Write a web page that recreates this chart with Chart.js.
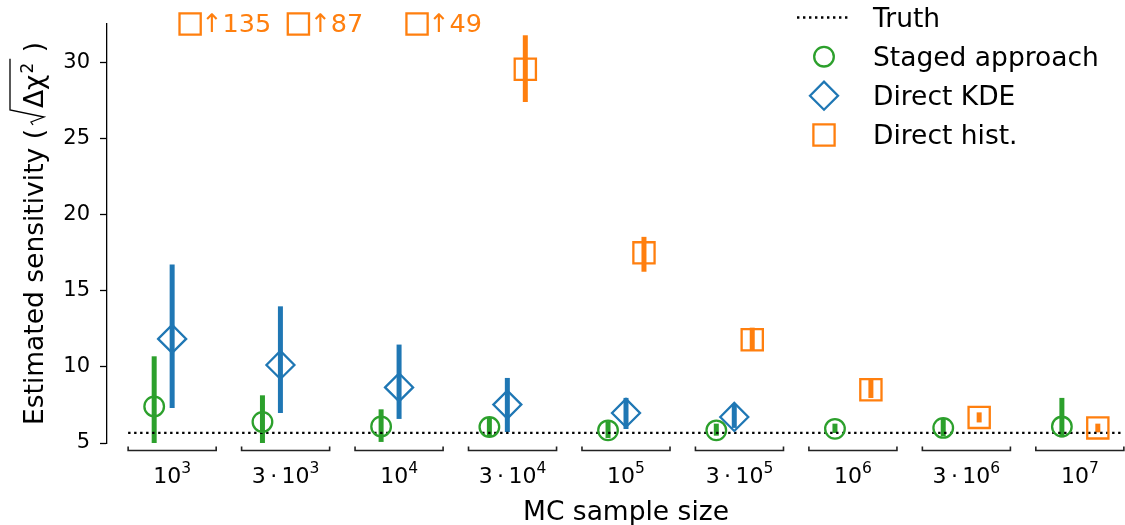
<!DOCTYPE html>
<html>
<head>
<meta charset="utf-8">
<script src="https://cdn.jsdelivr.net/npm/chart.js@4.4.0/dist/chart.umd.min.js"></script>
<style>html,body{margin:0;padding:0;background:#fff}canvas{display:block}</style>
</head>
<body>
<canvas id="c" width="1125" height="525"></canvas>
<script>
// ---------------- data ----------------
const sampleSizes = [1e3, 3e3, 1e4, 3e4, 1e5, 3e5, 1e6, 3e6, 1e7];
const tickLabels = ['10^3', '3\u2009\u00B7\u200910^3', '10^4', '3\u2009\u00B7\u200910^4', '10^5',
                    '3\u2009\u00B7\u200910^5', '10^6', '3\u2009\u00B7\u200910^6', '10^7'];
const yTicks = [5, 10, 15, 20, 25, 30];
const truthValue = 5.66;

const stagedMid = [7.40, 6.38, 6.09, 6.05, 5.83, 5.83, 5.93, 5.99, 6.08];
const stagedLo  = [4.90, 4.90, 5.07, 5.45, 5.33, 5.48, 5.66, 5.44, 5.37];
const stagedHi  = [10.69, 8.13, 7.21, 6.65, 6.42, 6.27, 6.27, 6.64, 7.96];

const kdeMid = [11.83, 10.12, 8.65, 7.52, 6.97, 6.71, null, null, null];
const kdeLo  = [7.30, 6.97, 6.58, 5.72, 5.92, 5.99, null, null, null];
const kdeHi  = [16.71, 13.97, 11.46, 9.27, 7.96, 7.56, null, null, null];

const histMid = [135, 87, 49, 29.53, 17.48, 11.78, 8.50, 6.68, 5.99];
const histLo  = [null, null, null, 27.38, 16.24, 11.09, 7.95, 6.35, 5.70];
const histHi  = [null, null, null, 31.76, 18.53, 12.57, 9.15, 7.01, 6.27];

// ---------------- styling / layout ----------------
const FONT = '"DejaVu Sans", "Liberation Sans", sans-serif';
const Y_MIN = 5, Y_MAX = 32.5;
const SHIFT = 1.2;                 // horizontal dodge factor (log scale)
const BRACKET_HALF = 0.194;        // half width of category brackets, in decades
const C_STAGED = '#2ca02c', C_KDE = '#1f77b4', C_HIST = '#ff7f0e';
const PLOT_LEFT = 107, AXES_RIGHT = 1145, CANVAS_W = 1125; // axes extend past the cropped right edge

const lg = v => Math.log10(v);
const xLoData = lg(Math.min(...sampleSizes) / SHIFT);
const xHiData = lg(Math.max(...sampleSizes) * SHIFT);
const xPad = 0.05 * (xHiData - xLoData);
const X_MIN = xLoData - xPad, X_MAX_FULL = xHiData + xPad;
const X_MAX = X_MIN + (X_MAX_FULL - X_MIN) * (CANVAS_W - PLOT_LEFT) / (AXES_RIGHT - PLOT_LEFT);

const catPos = i => lg(sampleSizes[0]) + i * (lg(sampleSizes[sampleSizes.length - 1]) - lg(sampleSizes[0])) / (sampleSizes.length - 1);

const series = [
  { key: 'staged', label: 'Staged approach', color: C_STAGED, shift: 1 / SHIFT, mid: stagedMid, lo: stagedLo, hi: stagedHi, style: 'circle', radius: 9.8 },
  { key: 'kde', label: 'Direct KDE', color: C_KDE, shift: 1, mid: kdeMid, lo: kdeLo, hi: kdeHi, style: 'rectRot', radius: 14 },
  { key: 'hist', label: 'Direct hist.', color: C_HIST, shift: SHIFT, mid: histMid, lo: histLo, hi: histHi, style: 'rect', radius: 15 }
];

function points(s) {
  const out = [];
  sampleSizes.forEach((n, i) => {
    const v = s.mid[i];
    if (v != null && v <= Y_MAX) out.push({ x: lg(n * s.shift), y: v });
  });
  return out;
}
const overflowPts = [];
sampleSizes.forEach((n, i) => {
  if (histMid[i] != null && histMid[i] > Y_MAX) overflowPts.push({ x: lg(n * SHIFT), y: Y_MAX, v: histMid[i] });
});

const MW = 2.3;
const datasets = [
  { type: 'line', label: 'Truth', data: [{ x: catPos(0) - BRACKET_HALF, y: truthValue }, { x: catPos(sampleSizes.length - 1) + BRACKET_HALF, y: truthValue }],
    borderColor: '#000', borderWidth: 2.3, borderDash: [2.4, 3.6], pointRadius: 0, fill: false, order: 5 },
  ...series.map((s, k) => ({ type: 'scatter', label: s.label, data: points(s), pointStyle: s.style, pointRadius: s.radius,
    pointBorderWidth: MW, borderColor: s.color, backgroundColor: 'rgba(0,0,0,0)', pointBackgroundColor: 'rgba(0,0,0,0)',
    pointBorderColor: s.color, order: 3 - k })),
  { type: 'scatter', label: 'overflow', data: overflowPts, pointStyle: 'rect', pointRadius: 15, pointBorderWidth: MW,
    pointBorderColor: C_HIST, pointBackgroundColor: 'rgba(0,0,0,0)', clip: false, order: 0 }
];

// ---------------- plugins ----------------
const errorBars = {
  id: 'errorBars',
  beforeDatasetsDraw(chart) {
    const { ctx, chartArea: a, scales: { x, y } } = chart;
    ctx.save();
    ctx.beginPath(); ctx.rect(a.left, a.top, a.right - a.left, a.bottom - a.top); ctx.clip();
    ctx.lineWidth = 5; ctx.lineCap = 'butt';
    series.forEach(s => {
      ctx.strokeStyle = s.color;
      sampleSizes.forEach((n, i) => {
        if (s.lo[i] == null || s.hi[i] == null) return;
        const px = x.getPixelForValue(lg(n * s.shift));
        ctx.beginPath();
        ctx.moveTo(px, y.getPixelForValue(s.lo[i]));
        ctx.lineTo(px, y.getPixelForValue(s.hi[i]));
        ctx.stroke();
      });
    });
    ctx.restore();
  }
};

function drawMarker(ctx, style, cx, cy, r, color) {
  ctx.save();
  ctx.strokeStyle = color; ctx.lineWidth = MW;
  ctx.beginPath();
  if (style === 'circle') ctx.arc(cx, cy, r, 0, Math.PI * 2);
  else if (style === 'rectRot') { ctx.moveTo(cx - r, cy); ctx.lineTo(cx, cy - r); ctx.lineTo(cx + r, cy); ctx.lineTo(cx, cy + r); ctx.closePath(); }
  else { const h = r * Math.SQRT1_2; ctx.rect(cx - h, cy - h, 2 * h, 2 * h); }
  ctx.stroke();
  ctx.restore();
}

const decorations = {
  id: 'decorations',
  afterDatasetsDraw(chart) {
    const { ctx, scales: { x, y } } = chart;
    ctx.save();
    ctx.fillStyle = C_HIST;
    ctx.font = '25.5px ' + FONT;
    ctx.textAlign = 'left'; ctx.textBaseline = 'alphabetic';
    overflowPts.forEach(p => {
      const px = x.getPixelForValue(p.x);
      const py = y.getPixelForValue(p.y);
      ctx.fillText('\u2191' + p.v, px + 11, py + 8);
    });
    ctx.restore();
  },
  afterDraw(chart) {
    const { ctx, chartArea: a, scales: { x } } = chart;
    ctx.save();
    // category brackets and tick labels
    ctx.strokeStyle = '#222'; ctx.lineWidth = 1.6;
    const by = 450.5;
    sampleSizes.forEach((n, i) => {
      const c = catPos(i);
      const x0 = x.getPixelForValue(c - BRACKET_HALF), x1 = x.getPixelForValue(c + BRACKET_HALF);
      ctx.beginPath();
      ctx.moveTo(x0, by - 4); ctx.lineTo(x0, by); ctx.lineTo(x1, by); ctx.lineTo(x1, by - 4);
      ctx.stroke();
      const [base, exp] = tickLabels[i].split('^');
      ctx.font = '22px ' + FONT;
      const wb = ctx.measureText(base).width;
      ctx.font = '15.5px ' + FONT;
      const we = ctx.measureText(exp).width;
      const cx = x.getPixelForValue(c);
      const sx = cx - (wb + we) / 2;
      ctx.fillStyle = '#000'; ctx.textAlign = 'left'; ctx.textBaseline = 'alphabetic';
      ctx.font = '22px ' + FONT;
      ctx.fillText(base, sx, 482.5);
      ctx.font = '15.5px ' + FONT;
      ctx.fillText(exp, sx + wb, 473);
    });

    // x-axis title (centred on the full, uncropped axes)
    ctx.fillStyle = '#000';
    ctx.font = '26.5px ' + FONT; ctx.textAlign = 'center'; ctx.textBaseline = 'alphabetic';
    ctx.fillText('MC sample size', x.getPixelForValue((X_MIN + X_MAX_FULL) / 2), 520);

    // y-axis title with radical
    ctx.save();
    ctx.translate(43, (a.top + a.bottom) / 2);
    ctx.rotate(-Math.PI / 2);
    ctx.textAlign = 'left';
    const big = '26.5px ' + FONT, small = '17px ' + FONT;
    ctx.font = big;
    const s1 = 'Estimated sensitivity (';
    const s2 = '\u0394\u03C7';
    const s4 = ' )';
    const w1 = ctx.measureText(s1).width;
    const w2 = ctx.measureText(s2).width;
    const w4 = ctx.measureText(s4).width;
    ctx.font = small;
    const w3 = ctx.measureText('2').width;
    const gap = 4, rad = 17;
    const total = w1 + gap + rad + w2 + w3 + 3 + w4;
    let u = -total / 2;
    ctx.font = big; ctx.fillText(s1, u, 0); u += w1 + gap;
    ctx.strokeStyle = '#000'; ctx.lineWidth = 1.3;
    const ru = u;
    u += rad;
    ctx.fillText(s2, u, 0); u += w2;
    ctx.font = small; ctx.fillText('2', u + 1, -10); u += w3 + 3;
    ctx.beginPath();
    ctx.moveTo(ru, -10); ctx.lineTo(ru + 3, -12); ctx.lineTo(ru + 8, 1); ctx.lineTo(ru + 15, -33); ctx.lineTo(u + 2, -33);
    ctx.stroke();
    ctx.font = big; ctx.fillText(s4, u, 0);
    ctx.restore();

    // legend
    const lx = 824, tx = 873;
    ctx.strokeStyle = '#000'; ctx.lineWidth = 2.3; ctx.setLineDash([2.4, 3.6]);
    ctx.beginPath(); ctx.moveTo(797, 17.5); ctx.lineTo(851, 17.5); ctx.stroke();
    ctx.setLineDash([]);
    drawMarker(ctx, 'circle', lx, 56.7, 9.8, C_STAGED);
    drawMarker(ctx, 'rectRot', lx, 95.7, 14, C_KDE);
    drawMarker(ctx, 'rect', lx, 135, 15, C_HIST);
    ctx.fillStyle = '#000'; ctx.font = '26.5px ' + FONT; ctx.textAlign = 'left'; ctx.textBaseline = 'alphabetic';
    ctx.fillText('Truth', tx, 27);
    series.forEach((s, k) => ctx.fillText(s.label, tx, 66 + 39 * k));
    ctx.restore();
  }
};

// ---------------- chart ----------------
new Chart(document.getElementById('c'), {
  type: 'scatter',
  data: { datasets },
  options: {
    responsive: false,
    animation: false,
    events: [],
    layout: { autoPadding: false, padding: { top: 24, right: 0, left: 0, bottom: 0 } },
    plugins: { legend: { display: false }, tooltip: { enabled: false } },
    scales: {
      x: {
        type: 'linear', min: X_MIN, max: X_MAX,
        afterFit: s => { s.height = 82; },
        ticks: { display: false }, grid: { display: false }, border: { display: false }
      },
      y: {
        type: 'linear', min: Y_MIN, max: Y_MAX,
        afterBuildTicks: s => { s.ticks = yTicks.map(v => ({ value: v })); },
        afterFit: s => { s.width = PLOT_LEFT; },
        grid: { display: true, drawOnChartArea: false, drawTicks: true, tickLength: 7, tickWidth: 1.3, tickColor: '#000' },
        border: { display: true, color: '#000', width: 1.3 },
        ticks: { font: { family: FONT, size: 21 }, color: '#000', padding: 10 }
      }
    }
  },
  plugins: [errorBars, decorations]
});
</script>
</body>
</html>
